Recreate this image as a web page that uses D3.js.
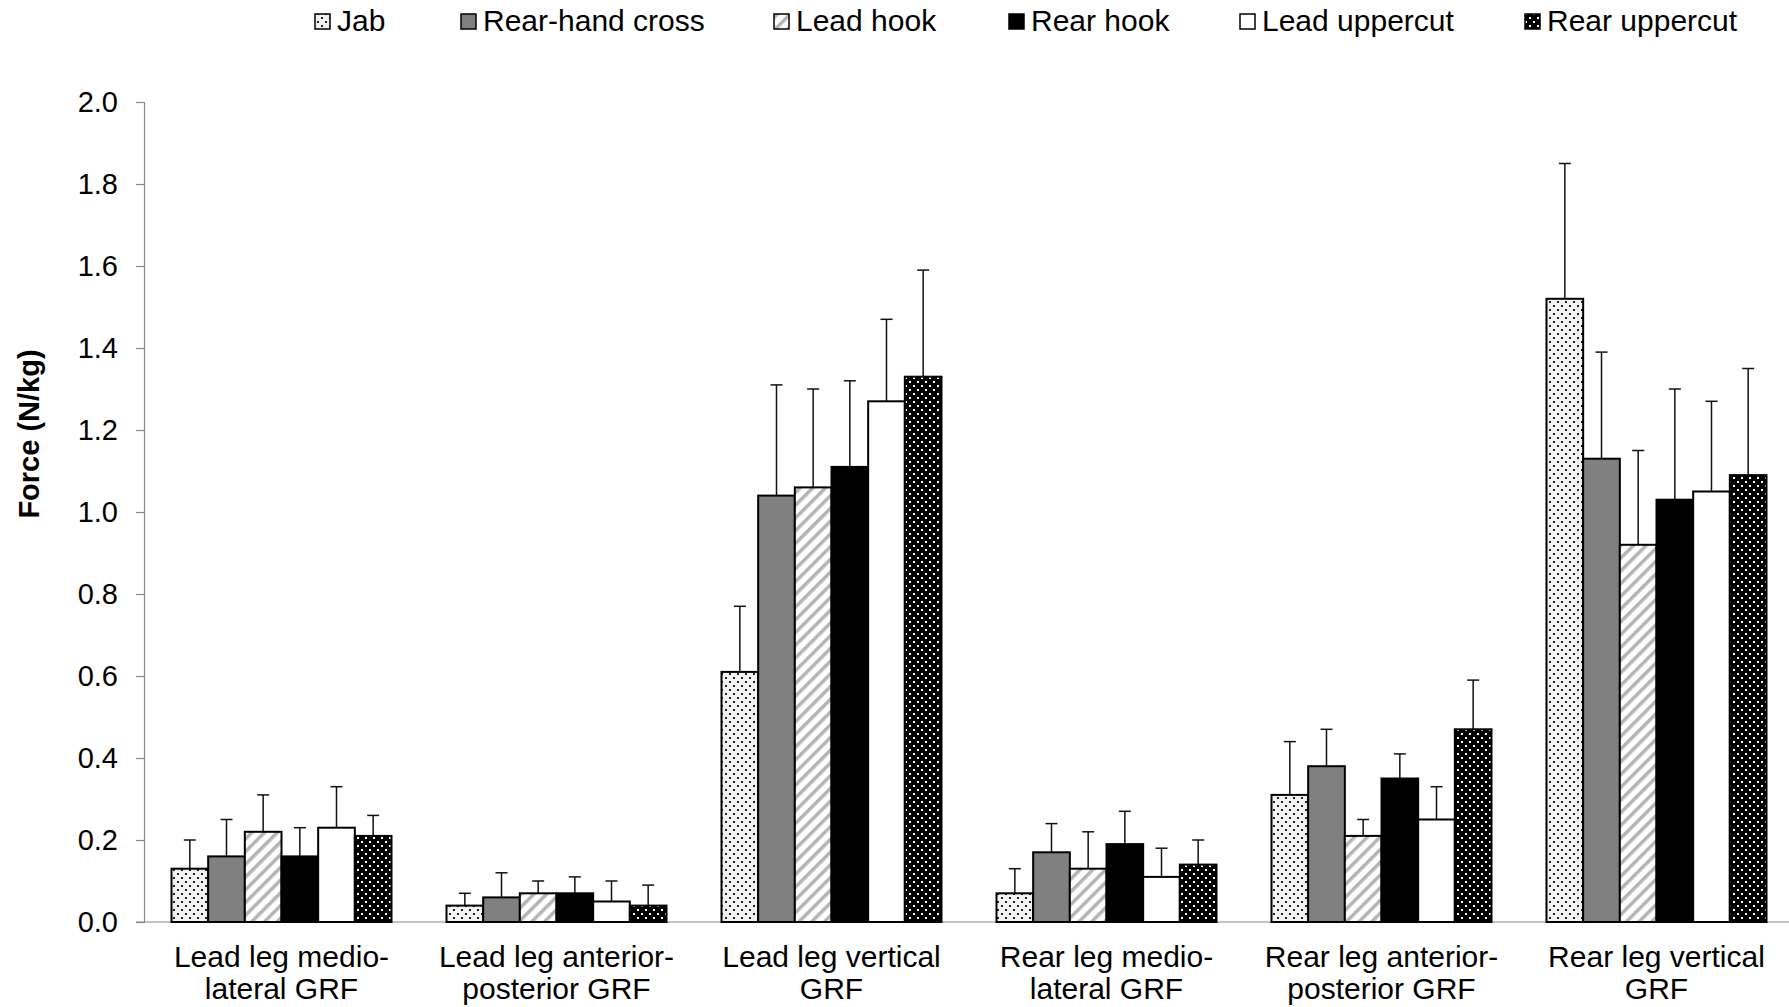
<!DOCTYPE html>
<html>
<head>
<meta charset="utf-8">
<script src="https://cdn.jsdelivr.net/npm/d3@7"></script>
<style>
	body { margin: 0; background: #fff; }
	text { font-family: "Liberation Sans", Arial, sans-serif; }
</style>
</head>
<body>
<div id="chart"></div>
<script>
// categories (two-line labels)
var categories = [
	["Lead leg medio-", "lateral GRF"],
	["Lead leg anterior-", "posterior GRF"],
	["Lead leg vertical", "GRF"],
	["Rear leg medio-", "lateral GRF"],
	["Rear leg anterior-", "posterior GRF"],
	["Rear leg vertical", "GRF"]
];
var seriesNames = ["Jab", "Rear-hand cross", "Lead hook", "Rear hook", "Lead uppercut", "Rear uppercut"];

// means per punch, one value per category
var jab = [0.13, 0.04, 0.61, 0.07, 0.31, 1.52];
var rearCross = [0.16, 0.06, 1.04, 0.17, 0.38, 1.13];
var leadHook = [0.22, 0.07, 1.06, 0.13, 0.21, 0.92];
var rearHook = [0.16, 0.07, 1.11, 0.19, 0.35, 1.03];
var leadUppercut = [0.23, 0.05, 1.27, 0.11, 0.25, 1.05];
var rearUppercut = [0.21, 0.04, 1.33, 0.14, 0.47, 1.09];

// standard deviations (upper error bars)
var jabSd = [0.07, 0.03, 0.16, 0.06, 0.13, 0.33];
var rearCrossSd = [0.09, 0.06, 0.27, 0.07, 0.09, 0.26];
var leadHookSd = [0.09, 0.03, 0.24, 0.09, 0.04, 0.23];
var rearHookSd = [0.07, 0.04, 0.21, 0.08, 0.06, 0.27];
var leadUppercutSd = [0.10, 0.05, 0.20, 0.07, 0.08, 0.22];
var rearUppercutSd = [0.05, 0.05, 0.26, 0.06, 0.12, 0.26];

var yTicks = [0, 0.2, 0.4, 0.6, 0.8, 1.0, 1.2, 1.4, 1.6, 1.8, 2.0];

var means = [jab, rearCross, leadHook, rearHook, leadUppercut, rearUppercut];
var sds = [jabSd, rearCrossSd, leadHookSd, rearHookSd, leadUppercutSd, rearUppercutSd];
var fills = ["url(#dotsLight)", "#808080", "url(#stripes)", "#000000", "#ffffff", "url(#dotsDark)"];

var w = 1789, h = 1007;
var plotLeft = 144, plotRight = 1794, plotTop = 102, plotBottom = 922;

var svg = d3.select("#chart")
	.append("svg")
	.attr("width", w)
	.attr("height", h);

//填充图案
var defs = svg.append("defs");

var p1 = defs.append("pattern")
	.attr("id", "dotsLight")
	.attr("patternUnits", "userSpaceOnUse")
	.attr("width", 8).attr("height", 8);
p1.append("rect").attr("width", 8).attr("height", 8).attr("fill", "#f2f2f2");
p1.append("rect").attr("x", 1).attr("y", 1).attr("width", 2).attr("height", 2).attr("fill", "#222");
p1.append("rect").attr("x", 5).attr("y", 5).attr("width", 2).attr("height", 2).attr("fill", "#222");

var p2 = defs.append("pattern")
	.attr("id", "dotsDark")
	.attr("patternUnits", "userSpaceOnUse")
	.attr("width", 8).attr("height", 8);
p2.append("rect").attr("width", 8).attr("height", 8).attr("fill", "#000");
p2.append("rect").attr("x", 1).attr("y", 1).attr("width", 2).attr("height", 2).attr("fill", "#fff");
p2.append("rect").attr("x", 5).attr("y", 5).attr("width", 2).attr("height", 2).attr("fill", "#fff");

var p3 = defs.append("pattern")
	.attr("id", "stripes")
	.attr("patternUnits", "userSpaceOnUse")
	.attr("patternTransform", "rotate(45)")
	.attr("width", 9).attr("height", 9);
p3.append("rect").attr("width", 9).attr("height", 9).attr("fill", "#fff");
p3.append("rect").attr("width", 3.5).attr("height", 9).attr("fill", "#b4b4b4");

//比例尺
var x0 = d3.scaleBand()
	.domain(d3.range(categories.length))
	.range([plotLeft, plotRight])
	.paddingInner(0.2)
	.paddingOuter(0.1);

var x1 = d3.scaleBand()
	.domain(d3.range(seriesNames.length))
	.range([0, x0.bandwidth()]);

var yScale = d3.scaleLinear()
	.domain([0, 2])
	.range([plotBottom, plotTop]);

//纵轴
var yAxis = d3.axisLeft(yScale)
	.tickValues(yTicks)
	.tickSize(8)
	.tickPadding(18)
	.tickFormat(d3.format(".1f"));

var yBar = svg.append("g")
	.attr("transform", "translate(" + plotLeft + ",0)")
	.call(yAxis);
yBar.select(".domain").attr("stroke", "#888").attr("stroke-width", 1.2);
yBar.selectAll(".tick line").attr("stroke", "#888").attr("stroke-width", 1.2);
yBar.selectAll("text")
	.attr("font-size", 29)
	.attr("fill", "#000")
	.style("font-family", "'Liberation Sans', Arial, sans-serif");

//横轴
svg.append("line")
	.attr("x1", plotLeft - 8).attr("x2", plotRight)
	.attr("y1", plotBottom).attr("y2", plotBottom)
	.attr("stroke", "#888")
	.attr("stroke-width", 1.2);

//柱子
var groups = svg.selectAll("g.group")
	.data(means)
	.enter()
	.append("g")
	.attr("class", "group");

groups.each(function(vals, s) {
	var g = d3.select(this);
	vals.forEach(function(v, c) {
		var bx = x0(c) + x1(s);
		var bw = x1.bandwidth();
		var cx = bx + bw / 2;
		var topY = yScale(v + sds[s][c]);
		// error bar
		g.append("line")
			.attr("x1", cx).attr("x2", cx)
			.attr("y1", yScale(v)).attr("y2", topY)
			.attr("stroke", "#111").attr("stroke-width", 1.5);
		g.append("line")
			.attr("x1", cx - 6).attr("x2", cx + 6)
			.attr("y1", topY).attr("y2", topY)
			.attr("stroke", "#111").attr("stroke-width", 1.5);
		g.append("rect")
			.attr("x", bx)
			.attr("y", yScale(v))
			.attr("width", bw)
			.attr("height", yScale(0) - yScale(v))
			.attr("fill", fills[s])
			.attr("stroke", "#000")
			.attr("stroke-width", 2);
	});
});

//类别标签
var xl = svg.append("g");
categories.forEach(function(lines, c) {
	var t = xl.append("text")
		.attr("x", x0(c) + x0.bandwidth() / 2)
		.attr("y", 967)
		.attr("text-anchor", "middle")
		.attr("font-size", 30)
		.attr("fill", "#000");
	lines.forEach(function(l, i) {
		t.append("tspan")
			.attr("x", x0(c) + x0.bandwidth() / 2)
			.attr("dy", i === 0 ? 0 : 32)
			.text(l);
	});
});

//纵轴标题
svg.append("text")
	.attr("transform", "translate(39,434) rotate(-90)")
	.attr("text-anchor", "middle")
	.attr("font-size", 29)
	.attr("font-weight", "bold")
	.text("Force (N/kg)");

//图例
var legendX = [315, 461, 774, 1009, 1240, 1525];
var legend = svg.append("g");
seriesNames.forEach(function(name, i) {
	legend.append("rect")
		.attr("x", legendX[i])
		.attr("y", 14)
		.attr("width", 15)
		.attr("height", 15)
		.attr("fill", fills[i])
		.attr("stroke", "#000")
		.attr("stroke-width", 1.5);
	legend.append("text")
		.attr("x", legendX[i] + 22)
		.attr("y", 31)
		.attr("font-size", 30)
		.text(name);
});
</script>
</body>
</html>
